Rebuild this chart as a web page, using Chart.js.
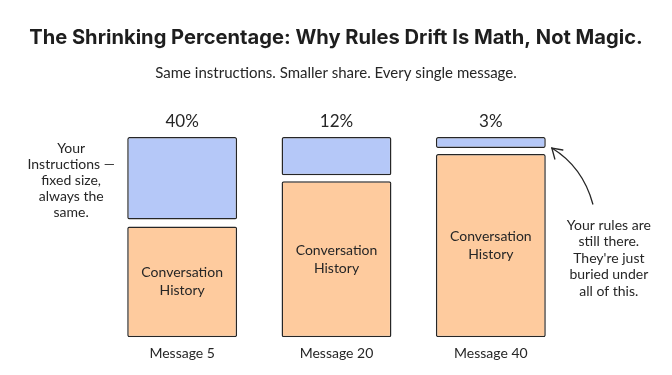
<!DOCTYPE html>
<html>
<head>
<meta charset="utf-8">
<script src="https://cdn.jsdelivr.net/npm/chart.js@4"></script>
<style>
  html, body { margin: 0; padding: 0; background: #fff; }
  #wrap { width: 672px; height: 375px; }
</style>
</head>
<body>
<div id="wrap"><canvas id="myChart" width="672" height="375"></canvas></div>
<script>
// the data
var messages = ["Message 5", "Message 20", "Message 40"];
var pctLabels = ["40%", "12%", "3%"];
// drawn height of each block, as a share of the full column
var instrShare = [41.2, 19.1, 5.5];
var historyShare = [55.3, 77.9, 91.5];

var hand = "Lato, 'Noto Sans', sans-serif";
var ink = "#262626";
var titleText = "The Shrinking Percentage: Why Rules Drift Is Math, Not Magic.";
var titleFamily = "Inter, Roboto, sans-serif";

// size the title so it spans about the same width as the original
const probe = document.createElement("canvas").getContext("2d");
probe.font = "bold 20px " + titleFamily;
let titleSize = Math.max(17, Math.min(22, 20 * 614 / probe.measureText(titleText).width));

// text that chart.js has no slot for: percentages, bar captions, side notes, arrow
const notes = {
    id: "notes",
    afterDatasetsDraw(chart) {
        const ctx = chart.ctx;
        const blue = chart.getDatasetMeta(1).data;
        const orange = chart.getDatasetMeta(0).data;
        ctx.save();
        ctx.fillStyle = ink;
        ctx.textAlign = "center";
        ctx.textBaseline = "middle";

        ctx.font = "17px " + hand;
        blue.forEach((bar, i) => {
            ctx.fillText(pctLabels[i], bar.x, bar.y - 15);
        });

        ctx.font = "14px " + hand;
        orange.forEach(bar => {
            const mid = (bar.y + bar.base) / 2;
            ctx.fillText("Conversation", bar.x, mid - 9);
            ctx.fillText("History", bar.x, mid + 9);
        });

        // left note, next to the first instructions block
        const b0 = blue[0];
        const leftLines = ["Your", "Instructions \u2014", "fixed size,", "always the", "same."];
        leftLines.forEach((t, i) => ctx.fillText(t, b0.x - 111, b0.y + 11 + i * 16));

        // right note + arrow to the thin blue block
        const b2 = blue[2];
        const rightLines = ["Your rules are", "still there.", "They're just", "buried under", "all of this."];
        rightLines.forEach((t, i) => ctx.fillText(t, b2.x + 118, b2.y + 88 + i * 16.5));

        const ex = b2.x + 61, ey = b2.y + 11;
        ctx.strokeStyle = ink;
        ctx.lineWidth = 1.3;
        ctx.lineCap = "round";
        ctx.beginPath();
        ctx.moveTo(b2.x + 102, b2.y + 67);
        ctx.quadraticCurveTo(b2.x + 92, b2.y + 30, ex, ey);
        ctx.stroke();
        ctx.beginPath();
        ctx.moveTo(ex + 11, ey + 2);
        ctx.lineTo(ex, ey);
        ctx.lineTo(ex + 3, ey + 11);
        ctx.stroke();
        ctx.restore();
    }
};

// empty side axes just hold the margins, so the title keeps the full width
const sideAxis = (pos, w) => ({
    position: pos,
    display: true,
    min: 0, max: 100,
    ticks: { display: false },
    grid: { display: false },
    border: { display: false },
    afterFit: s => { s.width = w; }
});

let mychart = new Chart("myChart", {
    type: "bar",
    data: {
        labels: messages,
        datasets: [{
            label: "Conversation History",
            data: historyShare.map(v => [0, v]),
            backgroundColor: "#fecb9e",
            borderColor: ink,
            borderWidth: 1.5,
            borderSkipped: false,
            borderRadius: 2,
            grouped: false
        }, {
            label: "Your Instructions",
            data: instrShare.map(v => [100 - v, 100]),
            backgroundColor: "#b5c8f8",
            borderColor: ink,
            borderWidth: 1.5,
            borderSkipped: false,
            borderRadius: 2,
            grouped: false
        }]
    },
    options: {
        responsive: false,
        animation: false,
        layout: { padding: { left: 0, right: 0, top: 0, bottom: 5 } },
        datasets: { bar: { barPercentage: 0.712, categoryPercentage: 1 } },
        scales: {
            x: {
                grid: { display: false, drawTicks: false },
                border: { display: false },
                ticks: { color: ink, font: { family: hand, size: 14 }, padding: 8 }
            },
            y: sideAxis("left", 105),
            yr: sideAxis("right", 104)
        },
        plugins: {
            legend: { display: false },
            tooltip: { enabled: false },
            title: {
                display: true,
                text: titleText,
                color: "#1e1e1e",
                font: { family: titleFamily, size: titleSize, weight: "bold" },
                padding: { top: 38 - titleSize * 0.6, bottom: 64.6 - 38 - titleSize * 0.6 }
            },
            subtitle: {
                display: true,
                text: "Same instructions. Smaller share. Every single message.",
                color: ink,
                font: { family: hand, size: 15 },
                padding: { top: 0, bottom: 137 - 64.6 - 18 }
            }
        }
    },
    plugins: [notes]
});
</script>
</body>
</html>
